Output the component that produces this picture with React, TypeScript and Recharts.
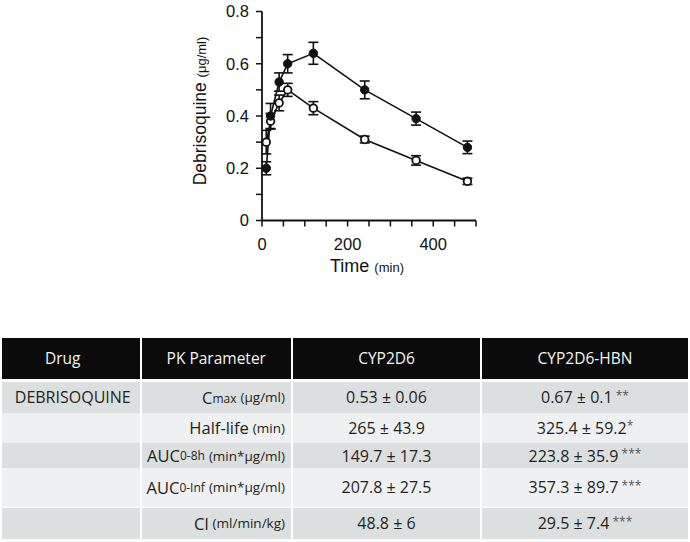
import React from "react";
import { ErrorBar, Line, LineChart, XAxis, YAxis } from "recharts";

// plasma debrisoquine, mean ± error
const times = [10, 20, 40, 60, 120, 240, 360, 480];
const hbnMean = [0.2, 0.4, 0.53, 0.6, 0.64, 0.5, 0.39, 0.28];
const hbnErr = [0.025, 0.048, 0.035, 0.035, 0.042, 0.034, 0.025, 0.024];
const wtMean = [0.3, 0.38, 0.45, 0.5, 0.43, 0.31, 0.23, 0.15];
const wtErr = [0.045, 0.03, 0.03, 0.025, 0.025, 0.013, 0.018, 0.012];

const xTicks = [0, 50, 100, 150, 200, 250, 300, 350, 400, 450, 500];
const yTicks = [0, 0.1, 0.2, 0.3, 0.4, 0.5, 0.6, 0.7, 0.8];

// PK table
const headers = ["Drug", "PK Parameter", "CYP2D6", "CYP2D6-HBN"];
const drugNames = ["DEBRISOQUINE", "", "", "", ""];
const paramMain = ["C", "Half-life", "AUC", "AUC", "Cl"];
const paramSub = ["max", "", "0-8h", "0-Inf", ""];
const paramUnit = ["(μg/ml)", "(min)", "(min*μg/ml)", "(min*μg/ml)", "(ml/min/kg)"];
const cypValues = ["0.53 ± 0.06", "265 ± 43.9", "149.7 ± 17.3", "207.8 ± 27.5", "48.8 ± 6"];
const hbnValues = ["0.67 ± 0.1", "325.4 ± 59.2", "223.8 ± 35.9", "357.3 ± 89.7", "29.5 ± 7.4"];
const hbnStars = [" **", "*", " ***", " ***", " ***"];

const data = times.map((t, i) => ({
  time: t,
  hbn: hbnMean[i],
  hbnErr: hbnErr[i],
  wt: wtMean[i],
  wtErr: wtErr[i],
}));

const AXIS_FONT = "'Liberation Sans', Arial, sans-serif";
const TABLE_FONT = "'Open Sans', 'Noto Sans', sans-serif";
const INK = "#111";

const colWidths = [139.5, 151.5, 189, 206];
const rowHeights = [31.2, 30.6, 25, 38.4, 31];
const rowBg = ["#dcdfe0", "#eef0f1", "#dcdfe0", "#eef0f1", "#dcdfe0"];

function YLabel(props: any) {
  const vb = props.viewBox || {};
  const cx = vb.x + 4;
  const cy = vb.y + vb.height / 2 - 5;
  return (
    <text
      x={cx}
      y={cy}
      transform={`rotate(-90 ${cx} ${cy})`}
      textAnchor="middle"
      fill={INK}
      fontFamily={AXIS_FONT}
    >
      <tspan fontSize={17.5}>Debrisoquine </tspan>
      <tspan fontSize={13}>(μg/ml)</tspan>
    </text>
  );
}

function XLabel(props: any) {
  const vb = props.viewBox || {};
  return (
    <text
      x={vb.x + vb.width / 2 - 2}
      y={vb.y + 51}
      textAnchor="middle"
      fill={INK}
      fontFamily={AXIS_FONT}
    >
      <tspan fontSize={18}>Time </tspan>
      <tspan fontSize={13}>(min)</tspan>
    </text>
  );
}

function Cell({ i, j, children, header }: any) {
  const last = j === colWidths.length - 1;
  let justify = "center";
  if (!header && j === 1) justify = "flex-end";
  return (
    <div
      style={{
        boxSizing: "border-box",
        width: colWidths[j],
        height: "100%",
        borderRight: last ? "none" : "2px solid #fff",
        display: "flex",
        alignItems: "center",
        justifyContent: justify,
        paddingRight: !header && j === 1 ? 6 : header && j === 0 ? 16 : 0,
        paddingLeft: !header && j === 0 ? 4 : 0,
        background: header ? "#0b0b0b" : rowBg[i],
        color: header ? "#f4f4f4" : "#231f20",
        whiteSpace: "nowrap",
      }}
    >
      {children}
    </div>
  );
}

function PkTable() {
  return (
    <div
      style={{
        position: "absolute",
        left: 2,
        top: 338,
        width: 686,
        fontFamily: TABLE_FONT,
        fontSize: 16,
      }}
    >
      <div style={{ display: "flex", height: 40.5, borderBottom: "3px solid #fff", fontSize: 15.5 }}>
        {headers.map((h, j) => (
          <Cell key={h} i={0} j={j} header>
            {h}
          </Cell>
        ))}
      </div>
      {rowHeights.map((h, i) => (
        <div
          key={i}
          style={{
            display: "flex",
            height: h,
            borderBottom: i === 3 ? "1.7px solid #fff" : "none",
          }}
        >
          <Cell i={i} j={0}>
            {drugNames[i]}
          </Cell>
          <Cell i={i} j={1}>
            <span style={{ fontSize: 16.5 }}>{paramMain[i]}</span>
            {paramSub[i] && (
              <span style={{ fontSize: 12, position: "relative", top: i === 0 ? 1 : 0 }}>{paramSub[i]}</span>
            )}
            <span style={{ fontSize: 13.5, marginLeft: 4 }}>{paramUnit[i]}</span>
          </Cell>
          <Cell i={i} j={2}>
            {cypValues[i]}
          </Cell>
          <Cell i={i} j={3}>
            {hbnValues[i]}
            <span style={{ fontSize: 12, color: "#555", position: "relative", top: -2, whiteSpace: "pre" }}>
              {hbnStars[i]}
            </span>
          </Cell>
        </div>
      ))}
    </div>
  );
}

export default function App() {
  return (
    <div
      style={{
        position: "absolute",
        left: 0,
        top: 0,
        width: 690,
        height: 542,
        background: "#fff",
        overflow: "hidden",
      }}
    >
      <div style={{ position: "absolute", left: 0, top: 0 }}>
        <LineChart
          width={500}
          height={290}
          data={data}
          margin={{ top: 11.5, right: 24, bottom: 19.5, left: 202 }}
        >
          <XAxis
            type="number"
            dataKey="time"
            domain={[0, 500]}
            ticks={xTicks}
            interval={0}
            height={50}
            tickSize={6}
            tickMargin={12}
            tickFormatter={(v: number) => (v % 200 === 0 ? String(v) : "")}
            axisLine={{ stroke: INK, strokeWidth: 1.8 }}
            tickLine={{ stroke: INK, strokeWidth: 1.5 }}
            tick={{ fill: INK, fontSize: 16.5, fontFamily: AXIS_FONT }}
            label={<XLabel />}
          />
          <YAxis
            type="number"
            domain={[0, 0.8]}
            ticks={yTicks}
            interval={0}
            width={60}
            tickSize={6}
            tickMargin={7}
            tickFormatter={(v: number) => {
              const k = Math.round(v * 10);
              if (k % 2 !== 0) return "";
              return k === 0 ? "0" : v.toFixed(1);
            }}
            axisLine={{ stroke: INK, strokeWidth: 1.8 }}
            tickLine={{ stroke: INK, strokeWidth: 1.5 }}
            tick={{ fill: INK, fontSize: 16.5, fontFamily: AXIS_FONT }}
            label={<YLabel />}
          />
          <Line
            type="linear"
            dataKey="wt"
            stroke={INK}
            strokeWidth={1.6}
            dot={{ r: 3.8, fill: "#fff", stroke: INK, strokeWidth: 1.8 }}
            isAnimationActive={false}
          >
            <ErrorBar dataKey="wtErr" width={5} stroke={INK} strokeWidth={1.6} direction="y" />
          </Line>
          <Line
            type="linear"
            dataKey="hbn"
            stroke={INK}
            strokeWidth={1.6}
            dot={{ r: 4.2, fill: INK, stroke: INK, strokeWidth: 1 }}
            isAnimationActive={false}
          >
            <ErrorBar dataKey="hbnErr" width={5} stroke={INK} strokeWidth={1.6} direction="y" />
          </Line>
        </LineChart>
      </div>
      <PkTable />
    </div>
  );
}
